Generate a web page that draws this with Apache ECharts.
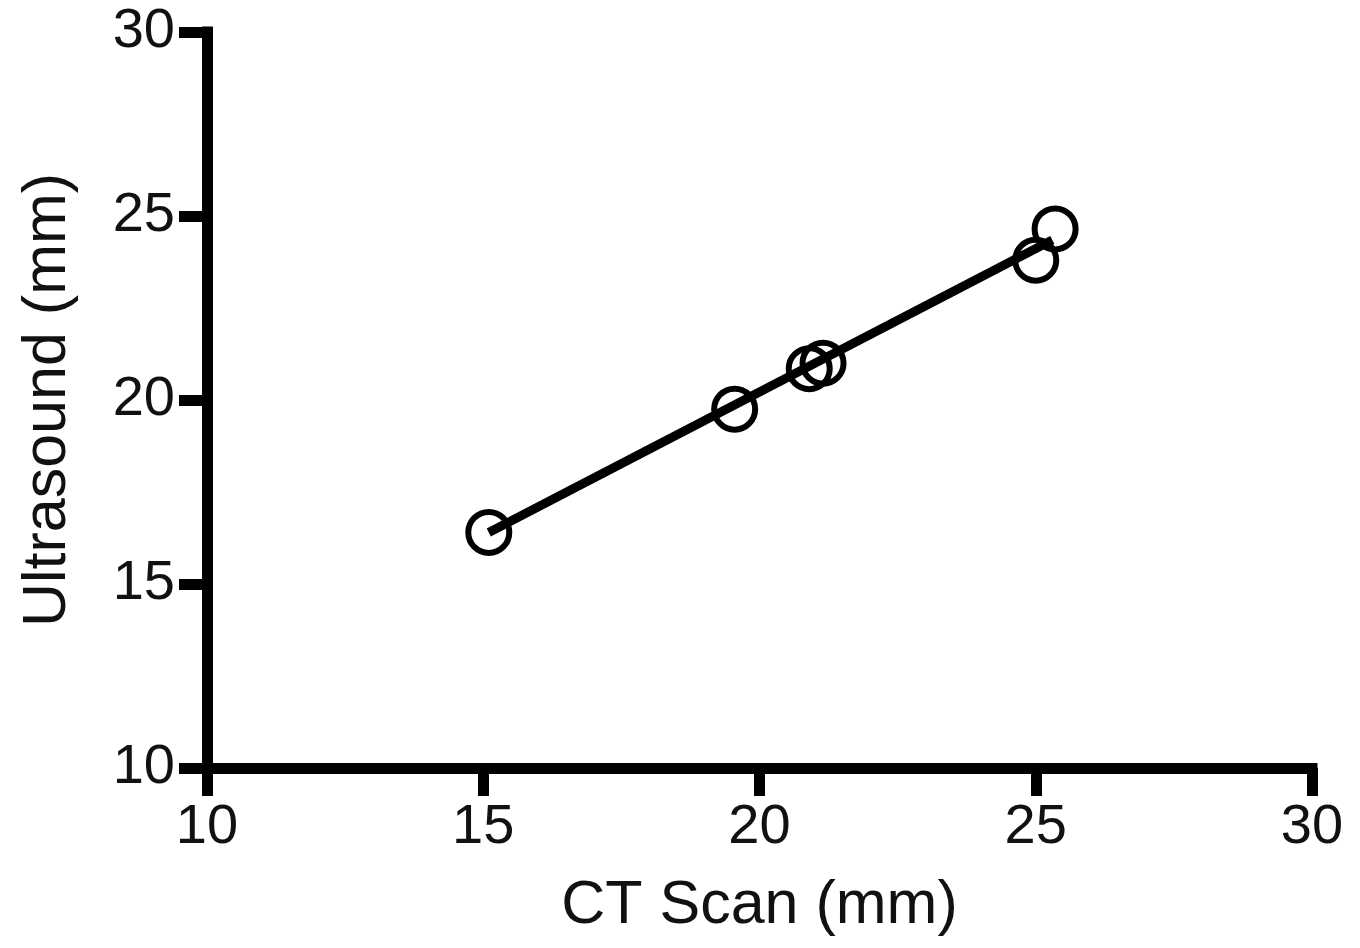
<!DOCTYPE html>
<html>
<head>
<meta charset="utf-8">
<script src="https://cdn.jsdelivr.net/npm/echarts@6/dist/echarts.min.js"></script>
<style>
  html, body { margin: 0; padding: 0; background: #fff; }
  #main { width: 1360px; height: 948px; }
</style>
</head>
<body>
<div id="main"></div>
<script>
// measured values (mm)
var ctScan = [15.1, 19.55, 20.9, 21.15, 25.0, 25.35];
var ultrasound = [16.4, 19.75, 20.85, 21.0, 23.8, 24.65];
// fitted line end points
var fitX = [15.1, 25.3];
var fitY = [16.4, 24.35];
var xTicks = [10, 30, 5];
var yTicks = [10, 30, 5];

var points = ctScan.map(function (x, i) { return [x, ultrasound[i]]; });
var fit = fitX.map(function (x, i) { return [x, fitY[i]]; });

var font = "'Liberation Sans', Arial, sans-serif";

function axis(t, name, nameGap, margin) {
  return {
    type: "value",
    min: t[0],
    max: t[1],
    interval: t[2],
    name: name,
    nameLocation: "middle",
    nameGap: nameGap,
    nameTextStyle: { fontSize: 61, color: "#111", fontFamily: font },
    axisLine: { lineStyle: { color: "#000", width: 11, cap: "square" } },
    axisTick: { length: 28, lineStyle: { color: "#000", width: 11 } },
    axisLabel: { fontSize: 56, color: "#111", fontFamily: font, margin: margin },
    splitLine: { show: false },
  };
}

var myChart = echarts.init(document.getElementById("main"));
var option = {
  animation: false,
  grid: { left: 207, right: 48, top: 32, bottom: 180 },
  xAxis: axis(xTicks, "CT Scan (mm)", 108, 32),
  yAxis: axis(yTicks, "Ultrasound (mm)", 128, 32),
  series: [
    {
      type: "line",
      data: fit,
      showSymbol: false,
      lineStyle: { color: "#000", width: 9 },
      z: 2,
    },
    {
      type: "scatter",
      data: points,
      symbol: "circle",
      symbolSize: 41,
      itemStyle: { color: "rgba(0,0,0,0)", borderColor: "#000", borderWidth: 6, opacity: 1 },
      z: 3,
    },
  ],
};
myChart.setOption(option);
</script>
</body>
</html>
